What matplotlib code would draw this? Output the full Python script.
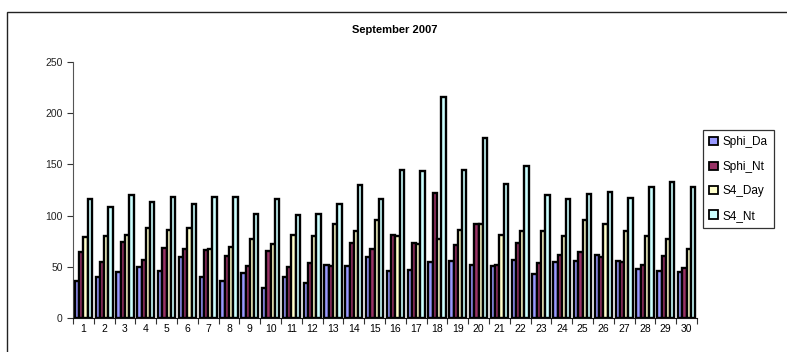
import matplotlib
matplotlib.use("Agg")
import matplotlib.pyplot as plt
import numpy as np
from matplotlib.patches import Rectangle

plt.rcParams['font.family'] = ['Liberation Sans', 'DejaVu Sans']

days = [str(d) for d in range(1, 31)]
sphi_da = [36, 40, 45, 50, 46, 60, 40, 36, 44, 29, 40, 34, 52, 51, 60, 46, 47, 55,
           56, 52, 51, 57, 43, 55, 56, 62, 56, 48, 46, 45]
sphi_nt = [64, 55, 74, 57, 68, 67, 66, 61, 51, 65, 50, 54, 51, 73, 67, 81, 73, 122,
           71, 92, 52, 73, 54, 62, 64, 60, 55, 52, 61, 49]
s4_day = [79, 80, 81, 88, 86, 88, 67, 69, 77, 72, 81, 80, 92, 85, 96, 80, 72, 77,
          86, 92, 81, 85, 85, 80, 96, 92, 85, 80, 77, 67]
s4_nt = [116, 108, 120, 113, 118, 111, 118, 118, 102, 116, 101, 102, 111, 130, 116, 145, 144, 216,
         145, 176, 131, 148, 120, 116, 121, 123, 117, 128, 133, 128]

series = [
    ("Sphi_Da", sphi_da, "#9999FF"),
    ("Sphi_Nt", sphi_nt, "#993366"),
    ("S4_Day", s4_day, "#FFFFCC"),
    ("S4_Nt", s4_nt, "#CCFFFF"),
]

W, H = 787, 352
fig = plt.figure(figsize=(W / 100, H / 100), dpi=100)

# outer chart frame
fig.patches.append(Rectangle((7 / W, -0.01), 1.0, (H - 12) / H + 0.01,
                             transform=fig.transFigure, fill=False,
                             edgecolor="#222222", linewidth=1.0))

ax = fig.add_axes([73 / W, (H - 318) / H, (697 - 73) / W, (318 - 62) / H])
x = np.arange(len(days))
bw = 0.205
for i, (name, vals, col) in enumerate(series):
    ax.bar(x + (i - 1.5) * bw, vals, width=bw, color=col, edgecolor="black",
           linewidth=1.7, label=name, zorder=3)

ax.set_xlim(-0.5, len(days) - 0.5)
ax.set_ylim(0, 250)
ax.set_yticks([0, 50, 100, 150, 200, 250])
ax.set_xticks(x)
ax.set_xticklabels(days)
ax.set_xticks(np.arange(-0.5, len(days)), minor=True)
ax.tick_params(axis="x", which="major", length=0, labelsize=7.5, pad=4)
ax.tick_params(axis="x", which="minor", length=4, width=0.8, color="#333333")
ax.tick_params(axis="y", length=4, width=0.8, labelsize=7.5, color="#333333",
               labelcolor="#222222")
for s in ("top", "right"):
    ax.spines[s].set_visible(False)
ax.spines["left"].set_color("#555555")
ax.spines["bottom"].set_color("#111111")
ax.patch.set_alpha(0)

fig.text(395 / W, 1 - 30 / H, "September 2007", ha="center", va="center",
         fontsize=8, fontweight="bold")

leg = fig.legend(loc="upper left", bbox_to_anchor=(703 / W, 1 - 130 / H),
                 frameon=True, fancybox=False, edgecolor="black",
                 fontsize=8.5, handlelength=0.7, handleheight=0.7,
                 handletextpad=0.4, labelspacing=1.05, borderpad=0.55,
                 borderaxespad=0)
leg.get_frame().set_linewidth(0.9)
for p in leg.get_patches():
    p.set_linewidth(1.3)

fig.savefig("out.png", dpi=100)
